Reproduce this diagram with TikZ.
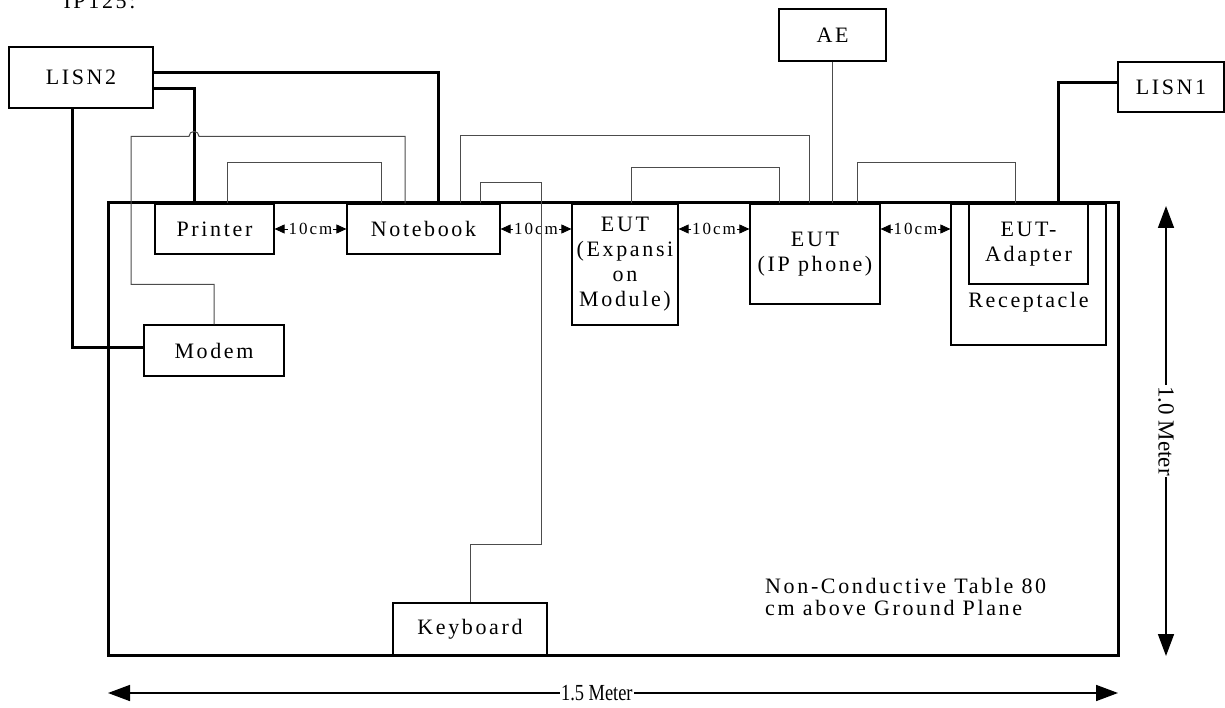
\documentclass[tikz,border=0pt]{standalone}
\usepackage{fontspec}
\usepackage{graphicx}
\setmainfont{Liberation Serif}[LetterSpace=12]
\newfontfamily\metrofont{Liberation Serif}
\usetikzlibrary{arrows.meta}

\begin{document}
\begin{tikzpicture}[x=1pt, y=1pt, >={Triangle[length=10pt,width=9pt]},
    box/.style={draw, line width=1.2pt, inner sep=0pt, align=center,
                font=\fontsize{22}{25}\selectfont},
    power/.style={line width=3pt},
    cavo/.style={line width=1pt, draw=black!70},
    dieci/.style={<->, line width=0.8pt},
    metro/.style={{Triangle[length=22pt,width=16pt]}-{Triangle[length=22pt,width=16pt]}, line width=1.6pt}]
    % --- Settings ---
    \def\grande{\fontsize{22}{25}\selectfont} % text size of the boxes
    \def\piccolo{\fontsize{17}{20}\selectfont} % text size of the 10cm marks

    % --- Frame ---
    \useasboundingbox (0,0) rectangle (1225,-708);
    \node[anchor=base west, font=\grande] (titolo) at (60,-9) {IP125:};

    % --- Table ---
    \draw[line width=3pt] (108,-203) rectangle (1118,-655);

    % --- Devices ---
    \node[box, minimum width=144, minimum height=61] (lisn2) at (81,-77.5) {LISN2};
    \node[box, minimum width=106, minimum height=50] (lisn1) at (1171,-87) {LISN1};
    \node[box, minimum width=107, minimum height=52] (ae) at (832.5,-35) {AE};
    \node[box, minimum width=119, minimum height=50] (printer) at (214.5,-229) {Printer};
    \node[box, minimum width=153, minimum height=50] (notebook) at (423.5,-229) {Notebook};
    \node[box, minimum width=106, minimum height=121] (espansione) at (625,-264.5)
        {EUT\\(Expansi\\on\\Module)};
    \node[box, minimum width=130, minimum height=100] (telefono) at (815,-254) {EUT\\(IP phone)};
    % receptacle with the adapter inside
    \node[box, minimum width=155, minimum height=141] (presa) at (1028.5,-274.5) {};
    \node[box, minimum width=119, minimum height=80] (adattatore) at (1028.5,-244) {EUT-\\Adapter};
    \node[font=\grande] (presatesto) at (1028.5,-302) {Receptacle};
    \node[box, minimum width=140, minimum height=51] (modem) at (214,-350.5) {Modem};
    \node[box, minimum width=154, minimum height=52] (tastiera) at (470,-629) {Keyboard};

    % --- Note ---
    \node[anchor=north west, align=left, inner sep=0pt, font=\fontsize{22}{22}\selectfont]
        (nota) at (765,-578) {Non-Conductive Table 80\\cm above Ground Plane};

    % --- Distances of 10cm ---
    \draw[dieci] (printer.east) -- (notebook.west)
        node[midway, fill=white, inner sep=1pt, font=\piccolo] {10cm};
    \draw[dieci] (notebook.east) -- (notebook.east -| espansione.west)
        node[midway, fill=white, inner sep=1pt, font=\piccolo] {10cm};
    \draw[dieci] (notebook.east -| espansione.east) -- (notebook.east -| telefono.west)
        node[midway, fill=white, inner sep=1pt, font=\piccolo] {10cm};
    \draw[dieci] (notebook.east -| telefono.east) -- (notebook.east -| presa.west)
        node[midway, fill=white, inner sep=1pt, font=\piccolo] {10cm};

    % --- Power cables (thick) ---
    \draw[power] ([yshift=4.5]lisn2.east) -| ([xshift=14.5]notebook.north);
    \draw[power] ([yshift=-11.5]lisn2.east) -| ([xshift=-20.5]printer.north);
    \draw[power] ([xshift=-9]lisn2.south) |- ([yshift=3.5]modem.west);
    \draw[power] ([yshift=4]lisn1.west) -| ([xshift=29.5]adattatore.north);

    % --- Signal cables (thin) ---
    % modem to notebook, with a hop over the printer cable
    \draw[cavo] (modem.north) -- ++(0,40) -- ++(-83,0) -- ++(0,148) -- ++(58,0)
        arc[start angle=180, end angle=0, radius=5] -| ([xshift=-18.5]notebook.north);
    \draw[cavo] ([xshift=12.5]printer.north) -- ++(0,41) -| ([xshift=-42.5]notebook.north);
    \draw[cavo] ([xshift=36.5]notebook.north) -- ++(0,68) -| ([xshift=-6]telefono.north);
    \draw[cavo] ([xshift=56.5]notebook.north) -- ++(0,21) -- ++(61,0) -- ++(0,-362)
        -| (tastiera.north);
    \draw[cavo] ([xshift=6]espansione.north) -- ++(0,36) -| ([xshift=-36]telefono.north);
    \draw[cavo] (ae.south) -- (ae.south |- telefono.north);
    \draw[cavo] ([xshift=42]telefono.north) -- ++(0,41) -| ([xshift=-13.5]adattatore.north);

    % --- Dimensions ---
    \coordinate (altosu) at (1166,-206);
    \coordinate (altogiu) at (1166,-656);
    \draw[metro] (altosu) -- (altogiu)
        node[midway, fill=white, inner sep=1pt, rotate=-90, font=\metrofont\fontsize{23}{25}\selectfont] {1.0 Meter};
    \coordinate (largosx) at (108,-693);
    \coordinate (largodx) at (1118,-693);
    \draw[metro] (largosx) -- (largodx)
        node[pos=0.484, fill=white, inner sep=1pt, font=\metrofont\fontsize{23}{25}\selectfont]
        {\scalebox{0.8}[1]{1.5 Meter}};
\end{tikzpicture}
\end{document}
